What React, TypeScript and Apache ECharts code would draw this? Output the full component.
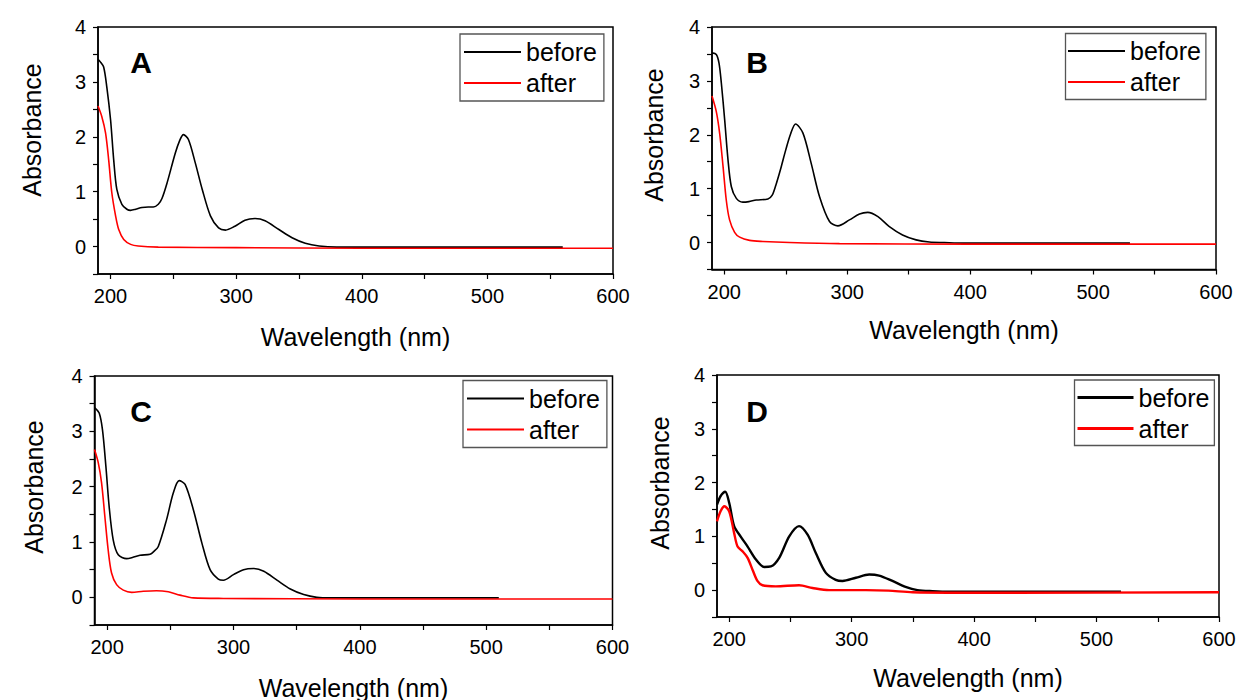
import React, { useEffect, useRef } from "react";
import * as echarts from "echarts";

// ---- data ----
const NM_TICKS = [200, 250, 300, 350, 400, 450, 500, 550, 600];
const NM_LABELS = [200, 300, 400, 500, 600];
const PANEL_LETTERS = ["A", "B", "C", "D"];
const SERIES_NAMES = ["before", "after"];

const A_BEFORE: [number, number][] = [
  [190, 3.41], [192, 3.36], [194.5, 3.27], [197, 2.91], [200, 2.31], [202.5, 1.58], [205, 1.04],
  [209, 0.77], [213, 0.68], [216, 0.66], [220, 0.68], [225, 0.71], [230, 0.72], [234, 0.72],
  [238, 0.77], [241, 0.88], [245, 1.16], [251.5, 1.7], [255, 1.93], [258, 2.04], [262, 1.95],
  [267.5, 1.52], [273, 1.04], [279.5, 0.56], [286, 0.34], [291.5, 0.3], [299, 0.37], [307, 0.48],
  [315, 0.51], [323, 0.47], [334, 0.31], [344.5, 0.16], [355, 0.06], [366, 0.01], [380, -0.01],
  [450, -0.01], [560, -0.01],
];
const A_AFTER: [number, number][] = [
  [190, 2.56], [193, 2.37], [196, 2.07], [198.5, 1.58], [201, 0.98], [204, 0.56], [206.5, 0.31],
  [210.5, 0.13], [216, 0.04], [222, 0.01], [238, -0.01], [300, -0.02], [400, -0.03], [600, -0.03],
];
const B_BEFORE: [number, number][] = [
  [190, 3.52], [193.5, 3.49], [195.7, 3.33], [197.6, 2.96], [200.3, 2.28], [203, 1.54], [205.7, 1.04],
  [209.8, 0.82], [215, 0.75], [220, 0.76], [226, 0.79], [235.5, 0.81], [239, 0.88], [242, 1.07],
  [246, 1.38], [250, 1.72], [254, 2.02], [258, 2.2], [264, 2.03], [270.7, 1.47], [277.5, 0.85],
  [285.6, 0.39], [292.4, 0.31], [301.8, 0.42], [310, 0.53], [316.7, 0.56], [325, 0.48], [334, 0.3],
  [345, 0.14], [356, 0.05], [366.8, 0.01], [379, 0.0], [395, -0.01], [530, -0.01],
];
const B_AFTER: [number, number][] = [
  [190, 2.72], [193.5, 2.43], [196.2, 2.03], [199, 1.41], [201.6, 0.79], [204.3, 0.42], [208.4, 0.19],
  [212.5, 0.1], [220.6, 0.04], [231.4, 0.02], [253, 0.0], [293.7, -0.02], [400, -0.03], [600, -0.03],
];
const C_BEFORE: [number, number][] = [
  [190, 3.43], [193.7, 3.33], [196.3, 3.03], [199, 2.37], [201.6, 1.64], [204.8, 1.04], [208.8, 0.77],
  [215.4, 0.7], [220, 0.72], [226, 0.76], [234, 0.78], [237, 0.83], [240.5, 0.92], [247, 1.4],
  [252.4, 1.89], [257, 2.11], [261.7, 2.04], [268.3, 1.58], [275, 0.98], [281.5, 0.5], [288, 0.33],
  [292, 0.31], [300, 0.41], [308, 0.5], [316, 0.52], [324, 0.47], [334.4, 0.31], [345, 0.15],
  [355.6, 0.05], [366, 0.0], [377, -0.01], [510, -0.01],
];
const C_AFTER: [number, number][] = [
  [190, 2.67], [193, 2.43], [195.6, 2.07], [198.2, 1.46], [200.8, 0.86], [203.5, 0.44], [207.5, 0.23],
  [212.8, 0.13], [219.4, 0.09], [228.6, 0.11], [239, 0.12], [248.4, 0.1], [257.7, 0.04], [268.3, -0.01],
  [292, -0.02], [400, -0.03], [600, -0.03],
];
const D_BEFORE: [number, number][] = [
  [190, 1.59], [193, 1.75], [196.7, 1.83], [200, 1.62], [204, 1.19], [209.5, 0.99], [215, 0.81],
  [221.8, 0.57], [228.6, 0.43], [234, 0.44], [240.8, 0.6], [249, 1.0], [257, 1.19], [264, 1.03],
  [270.7, 0.69], [278.9, 0.32], [287, 0.19], [292.5, 0.17], [303.4, 0.23], [314.3, 0.29], [322.4, 0.27],
  [333.3, 0.17], [344, 0.06], [353.7, 0.0], [366, -0.02], [380, -0.03], [520, -0.03],
];
const D_AFTER: [number, number][] = [
  [190, 1.28], [193, 1.47], [196, 1.56], [200, 1.46], [204, 1.06], [206.8, 0.81], [210.9, 0.72],
  [215, 0.6], [219, 0.38], [223, 0.17], [227.2, 0.09], [238, 0.07], [257, 0.09], [268, 0.04],
  [281.6, 0.0], [311.6, 0.0], [330, -0.01], [349.7, -0.04], [420, -0.05], [600, -0.04],
];

const PANEL_DATA = [
  [A_BEFORE, A_AFTER],
  [B_BEFORE, B_AFTER],
  [C_BEFORE, C_AFTER],
  [D_BEFORE, D_AFTER],
];

// ---- layout ----
const FONT = "Liberation Sans";
const LAYOUT = [
  { grid: { left: 98, top: 27, width: 515, height: 247 }, lw: 1.6, nameGap: 50,
    legend: { left: 460, top: 34, pad: [4, 7, 4, 4], iw: 57 }, letter: [141, 62.5], yName: [32, 130] },
  { grid: { left: 712, top: 27, width: 504, height: 242.5 }, lw: 1.6, nameGap: 48,
    legend: { left: 1065.5, top: 33.5, pad: [3.5, 5, 3.5, 2.5], iw: 57 }, letter: [757, 62.5], yName: [654, 135] },
  { grid: { left: 94.5, top: 376, width: 518, height: 249 }, lw: 1.6, nameGap: 50,
    legend: { left: 463, top: 380.5, pad: [4, 7, 4, 4], iw: 57 }, letter: [141, 411], yName: [34, 487] },
  { grid: { left: 717, top: 375, width: 502, height: 242 }, lw: 2.4, nameGap: 48,
    legend: { left: 1074.5, top: 380, pad: [3.5, 5, 3, 3], iw: 56 }, letter: [757, 411], yName: [660, 483] },
];

const COLORS = ["#000000", "#ff0000"];

export default function App() {
  const ref = useRef<HTMLDivElement>(null);
  useEffect(() => {
    if (!ref.current) return;
    const chart = echarts.init(ref.current, undefined, { renderer: "svg" });

    const grids: any[] = [];
    const xAxes: any[] = [];
    const yAxes: any[] = [];
    const series: any[] = [];
    const legends: any[] = [];
    const graphics: any[] = [];

    LAYOUT.forEach((L, i) => {
      grids.push({
        ...L.grid,
        show: true,
        borderColor: "#000",
        borderWidth: 1.5,
        backgroundColor: "transparent",
        containLabel: false,
        outerBoundsMode: "none",
      });
      xAxes.push({
        type: "value",
        gridIndex: i,
        min: 190,
        max: 600,
        name: "Wavelength (nm)",
        nameLocation: "middle",
        nameGap: L.nameGap,
        nameTextStyle: { fontSize: 25, fontFamily: FONT, color: "#000" },
        axisLine: { show: true, onZero: false, lineStyle: { color: "#000", width: 1.5 } },
        axisTick: { show: true, inside: false, length: 5, customValues: NM_TICKS, lineStyle: { color: "#000", width: 1.2 } },
        axisLabel: { customValues: NM_LABELS, fontSize: 20, fontFamily: FONT, color: "#000", margin: 12 },
        splitLine: { show: false },
      });
      yAxes.push({
        type: "value",
        gridIndex: i,
        min: -0.5,
        max: 4,
        interval: 0.5,
        axisLine: { show: true, onZero: false, lineStyle: { color: "#000", width: 1.5 } },
        axisTick: { show: true, inside: false, length: 5, lineStyle: { color: "#000", width: 1.2 } },
        axisLabel: {
          fontSize: 20,
          fontFamily: FONT,
          color: "#000",
          margin: 12,
          formatter: (v: number) => (Number.isInteger(v) && v >= 0 ? String(v) : ""),
        },
        splitLine: { show: false },
      });
      PANEL_DATA[i].forEach((d, k) => {
        series.push({
          type: "line",
          name: SERIES_NAMES[k],
          xAxisIndex: i,
          yAxisIndex: i,
          data: d,
          showSymbol: false,
          symbol: "none",
          smooth: 0.3,
          lineStyle: { color: COLORS[k], width: L.lw },
          itemStyle: { color: COLORS[k] },
          z: 2 + k,
        });
      });
      legends.push({
        data: SERIES_NAMES.map((n) => ({ name: n, icon: "rect" })),
        orient: "vertical",
        left: L.legend.left,
        top: L.legend.top,
        padding: L.legend.pad,
        itemGap: 3,
        itemWidth: L.legend.iw,
        itemHeight: L.lw + 0.4,
        borderColor: "#555",
        borderWidth: 1.3,
        backgroundColor: "#fff",
        selectedMode: false,
        textStyle: { fontSize: 25, fontFamily: FONT, color: "#000", lineHeight: 28 },
      });
      graphics.push({
        type: "text",
        x: L.letter[0],
        y: L.letter[1],
        style: {
          text: PANEL_LETTERS[i],
          fontSize: 30,
          fontWeight: "bold",
          fontFamily: FONT,
          fill: "#000",
          align: "center",
          verticalAlign: "middle",
        },
      });
      graphics.push({
        type: "text",
        x: L.yName[0],
        y: L.yName[1],
        rotation: Math.PI / 2,
        style: {
          text: "Absorbance",
          fontSize: 25,
          fontFamily: FONT,
          fill: "#000",
          align: "center",
          verticalAlign: "middle",
        },
      });
    });

    chart.setOption({
      animation: false,
      backgroundColor: "#fff",
      grid: grids,
      xAxis: xAxes,
      yAxis: yAxes,
      series,
      legend: legends,
      graphic: graphics,
    });

    return () => chart.dispose();
  }, []);

  return (
    <div
      ref={ref}
      style={{ position: "absolute", left: 0, top: 0, width: 1241, height: 700 }}
    />
  );
}
